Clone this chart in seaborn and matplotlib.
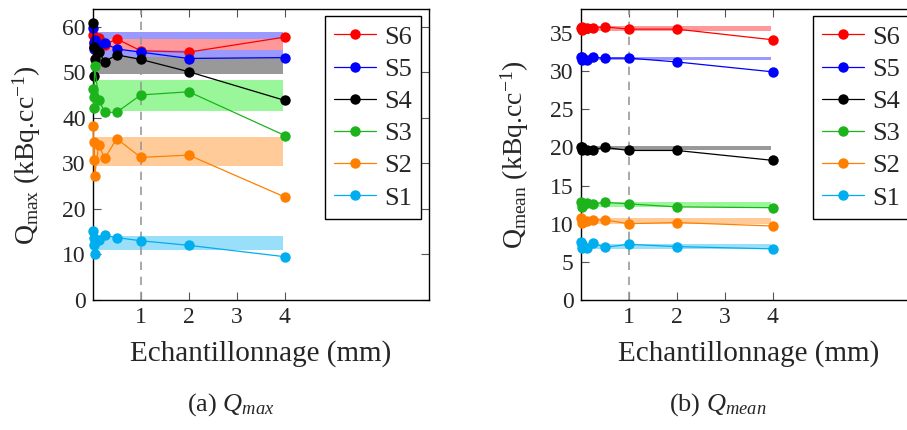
import pandas as pd
import seaborn as sns
import matplotlib.pyplot as plt
from matplotlib.lines import Line2D

# sampling steps (mm)
x_steps = [0.01, 0.02, 0.03, 0.04, 0.125, 0.25, 0.5, 1, 2, 4]
series = ["S6", "S5", "S4", "S3", "S2", "S1"]

# Qmax values
qmax_s1 = [15.1, 12.0, 13.5, 10.1, 13.2, 14.2, 13.7, 13.0, 12.0, 9.5]
qmax_s2 = [38.2, 30.7, 34.7, 27.2, 34.0, 31.1, 35.4, 31.3, 31.8, 22.6]
qmax_s3 = [46.2, 42.2, 44.6, 51.4, 44.0, 41.2, 41.2, 45.0, 45.7, 36.1]
qmax_s4 = [60.9, 49.2, 55.6, 53.0, 54.4, 52.3, 53.8, 52.8, 50.1, 43.8]
qmax_s5 = [59.6, 55.0, 56.3, 57.0, 56.1, 56.3, 55.1, 54.4, 53.0, 53.2]
qmax_s6 = [58.2, 55.5, 56.7, 57.5, 57.6, 56.0, 57.3, 54.7, 54.4, 57.7]

# Qmean values
qmean_s1 = [7.6, 6.8, 7.3, 6.9, 6.8, 7.5, 6.9, 7.3, 7.0, 6.7]
qmean_s2 = [10.7, 10.1, 10.5, 10.3, 10.3, 10.5, 10.5, 10.0, 10.15, 9.7]
qmean_s3 = [12.9, 12.2, 12.7, 12.5, 12.7, 12.6, 12.8, 12.6, 12.2, 12.1]
qmean_s4 = [20.0, 19.7, 20.1, 19.8, 19.7, 19.7, 20.0, 19.6, 19.6, 18.3]
qmean_s5 = [31.9, 31.5, 31.8, 31.6, 31.5, 31.8, 31.7, 31.7, 31.2, 29.9]
qmean_s6 = [35.6, 35.4, 35.8, 35.5, 35.6, 35.7, 35.8, 35.5, 35.5, 34.1]

# reference bands (low, high)
qmax_bands = {"S6": (54.9, 57.2), "S5": (53.3, 58.9), "S4": (49.6, 53.3),
              "S3": (41.5, 48.3), "S2": (29.3, 35.7), "S1": (11.0, 14.0)}
qmean_bands = {"S6": (35.3, 35.9), "S5": (31.4, 31.9), "S4": (19.7, 20.2),
               "S3": (12.2, 12.9), "S2": (10.0, 10.7), "S1": (6.65, 7.4)}

colors = {"S6": "#ff0000", "S5": "#0000ff", "S4": "#000000",
          "S3": "#1db31d", "S2": "#ff8000", "S1": "#00aeef"}
band_colors = {"S6": "#ff9999", "S5": "#9999ff", "S4": "#999999",
               "S3": "#99f799", "S2": "#ffcc99", "S1": "#99dff9"}

qmax = {"S1": qmax_s1, "S2": qmax_s2, "S3": qmax_s3,
        "S4": qmax_s4, "S5": qmax_s5, "S6": qmax_s6}
qmean = {"S1": qmean_s1, "S2": qmean_s2, "S3": qmean_s3,
         "S4": qmean_s4, "S5": qmean_s5, "S6": qmean_s6}

sns.set_theme(style="ticks")
plt.rcParams["font.family"] = ["Liberation Serif", "DejaVu Serif"]
plt.rcParams["mathtext.fontset"] = "custom"
plt.rcParams["mathtext.rm"] = "Liberation Serif"
plt.rcParams["mathtext.it"] = "Liberation Serif:italic"


def to_long(d):
    rows = []
    for s in series:
        for x, v in zip(x_steps, d[s]):
            rows.append({"x": x, "q": v, "serie": s})
    return pd.DataFrame(rows)


fig = plt.figure(figsize=(9.07, 4.3), dpi=100)
ax1 = fig.add_axes([0.1022, 0.3023, 0.3708, 0.6761])
ax2 = fig.add_axes([0.6402, 0.3023, 0.3708, 0.6761])

panels = [(ax1, qmax, qmax_bands, 63.8, [0, 10, 20, 30, 40, 50, 60],
           r"Q$_{\mathrm{max}}$ (kBq.cc$^{\mathrm{-1}}$)"),
          (ax2, qmean, qmean_bands, 38.1, [0, 5, 10, 15, 20, 25, 30, 35],
           r"Q$_{\mathrm{mean}}$ (kBq.cc$^{\mathrm{-1}}$)")]

for ax, data, bands, ymax, yticks, ylab in panels:
    # bands first (S1 -> S6 so S6 ends on top)
    for s in ["S1", "S2", "S3", "S4", "S5", "S6"]:
        lo, hi = bands[s]
        ax.fill_between([0, 3.96], lo, hi, color=band_colors[s], lw=0, zorder=1)
    ax.axvline(1, color="#999999", ls=(0, (5, 4)), lw=1.2, zorder=1.5)
    sns.lineplot(data=to_long(data), x="x", y="q", hue="serie", palette=colors,
                 marker="o", markersize=7.5, markeredgewidth=0, lw=0.9,
                 sort=False, legend=False, ax=ax, zorder=3, clip_on=False)
    ax.set_xlim(0, 7.0)
    ax.set_ylim(0, ymax)
    ax.set_xticks([1, 2, 3, 4])
    ax.set_yticks(yticks)
    ax.tick_params(direction="in", top=True, right=True, length=6,
                   width=0.8, color="#555555", labelsize=17, pad=5)
    for sp in ax.spines.values():
        sp.set_color("black")
        sp.set_linewidth(1.0)
    ax.set_xlabel("Echantillonnage (mm)", fontsize=21, labelpad=9)
    ax.set_ylabel(ylab, fontsize=20, labelpad=14)

    handles = [Line2D([0], [0], color=colors[s], marker="o", markersize=7.5,
                      markeredgewidth=0, lw=0.9) for s in series]
    leg = ax.legend(handles, series, loc="upper left",
                    bbox_to_anchor=(0.69, 0.977), fontsize=19,
                    frameon=True, fancybox=False, edgecolor="black",
                    framealpha=1, handlelength=1.6, labelspacing=0.33,
                    borderpad=0.35, handletextpad=0.3, borderaxespad=0)
    leg.get_frame().set_linewidth(1.0)

fig.text(231 / 907, 1 - 405 / 430, r"(a) $Q_{max}$", ha="center", va="center",
         fontsize=19)
fig.text(718 / 907, 1 - 405 / 430, r"(b) $Q_{mean}$", ha="center", va="center",
         fontsize=19)

fig.savefig("out.png", dpi=100)
